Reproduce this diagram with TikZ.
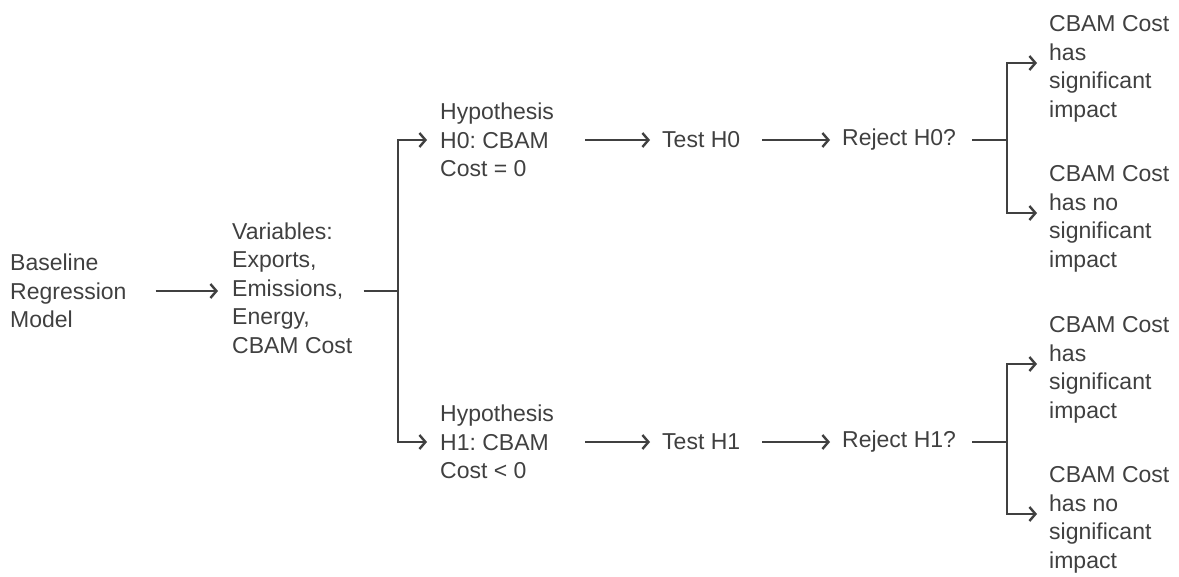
\documentclass[tikz,border=0pt]{standalone}
\usepackage{fontspec}
\setmainfont{Liberation Sans}
\frenchspacing
\usetikzlibrary{arrows.meta}
\definecolor{inkgray}{HTML}{404040}
\tikzset{
  % plain text step, no frame
  txt/.style={anchor=west,inner sep=0pt,align=left,text=inkgray,
    font=\fontsize{23}{28.5}\selectfont},
  % connector with an open arrow head
  flow/.style={draw=inkgray,line width=2.4pt,
    -{Straight Barb[length=6pt,width=14pt]}},
  % plain connector into a fork
  wire/.style={draw=inkgray,line width=2.4pt},
}

\begin{document}
\begin{tikzpicture}[x=1pt,y=-1pt]
\useasboundingbox (0,0) rectangle (1179,577);

\node[txt] (base) at (10,291) {Baseline\\Regression\\Model};
\node[txt] (vars) at (232,288) {Variables:\\Exports,\\Emissions,\\Energy,\\CBAM Cost};

\node[txt] (hyp0) at (440,140) {Hypothesis\\H0: CBAM\\Cost = 0};
\node[txt] (test0) at (662,140) {Test H0};
\node[txt] (rej0) at (842,140) {Reject H0?};
\node[txt] (out0a) at (1049,69) {CBAM Cost\\has\\significant\\impact};
\node[txt] (out0b) at (1049,219) {CBAM Cost\\has no\\significant\\impact};

\node[txt] (hyp1) at (440,442) {Hypothesis\\H1: CBAM\\Cost < 0};
\node[txt] (test1) at (662,442) {Test H1};
\node[txt] (rej1) at (842,442) {Reject H1?};
\node[txt] (out1a) at (1049,370) {CBAM Cost\\has\\significant\\impact};
\node[txt] (out1b) at (1049,520) {CBAM Cost\\has no\\significant\\impact};

\coordinate (fork1) at (398,291);
\coordinate (fork2) at (1007,140);
\coordinate (fork3) at (1007,442);

\draw[flow,shorten <=29pt,shorten >=14pt] (base.east) -- (base.east -| vars.west);
\draw[wire,shorten <=11pt] (vars.east |- fork1) -- (fork1);
\draw[flow,shorten >=13pt] (fork1) |- (hyp0.west);
\draw[flow,shorten >=13pt] (fork1) |- (hyp1.west);

%upper branch
\draw[flow,shorten <=31pt,shorten >=12pt] (hyp0.east) -- (test0.west);
\draw[flow,shorten <=22pt,shorten >=12pt] (test0.east) -- (rej0.west);
\draw[wire,shorten <=16pt] (rej0.east) -- (fork2);
\draw[flow,shorten >=12pt] (fork2) |- ([yshift=6pt]out0a.west);
\draw[flow,shorten >=12pt] (fork2) |- ([yshift=6pt]out0b.west);

%lower branch
\draw[flow,shorten <=31pt,shorten >=12pt] (hyp1.east) -- (test1.west);
\draw[flow,shorten <=22pt,shorten >=12pt] (test1.east) -- (rej1.west);
\draw[wire,shorten <=16pt] (rej1.east) -- (fork3);
\draw[flow,shorten >=12pt] (fork3) |- ([yshift=6pt]out1a.west);
\draw[flow,shorten >=12pt] (fork3) |- ([yshift=6pt]out1b.west);

\end{tikzpicture}
\end{document}
